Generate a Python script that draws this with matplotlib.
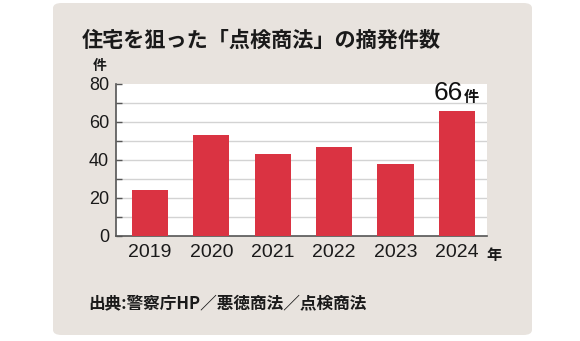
import matplotlib
matplotlib.use("Agg")
import matplotlib.pyplot as plt
from matplotlib.patches import FancyBboxPatch

plt.rcParams['font.family'] = ['Noto Sans CJK JP', 'DejaVu Sans']

years = ["2019", "2020", "2021", "2022", "2023", "2024"]
counts = [24, 53, 43, 47, 38, 66]
yticks = [0, 20, 40, 60, 80]
title = "住宅を狙った「点検商法」の摘発件数"
source = "出典:警察庁HP／悪徳商法／点検商法"

W, H = 580, 341
fig = plt.figure(figsize=(W / 100, H / 100), dpi=100)
fig.patch.set_facecolor("white")

panel = FancyBboxPatch((53 / W, 1 - 335 / H), (532 - 53) / W, (335 - 3) / H,
                       boxstyle="round,pad=0,rounding_size=0.015",
                       transform=fig.transFigure, facecolor="#e8e3de",
                       edgecolor="none", zorder=-5)
fig.patches.append(panel)

num_font = ['Liberation Sans', 'DejaVu Sans']

ax = fig.add_axes([116 / W, 1 - 236 / H, (487 - 116) / W, (236 - 84) / H])
ax.set_zorder(2)
ax.set_facecolor("white")
x = list(range(len(years)))
ax.bar(x, counts, width=0.59, color="#da3342", zorder=3)
ax.set_xlim(-0.554, 5.49)
ax.set_ylim(0, 80)
for v in range(10, 80, 10):
    ax.axhline(v, color="#d3d3d3", lw=1.0, zorder=1)
ax.set_yticks(yticks)
ax.set_yticks(list(range(10, 80, 20)), minor=True)
ax.set_yticklabels([str(v) for v in yticks], fontsize=13, color="#1a1a1a", family=num_font)
ax.set_xticks(x)
ax.set_xticklabels(years, fontsize=14, color="#1a1a1a", family=num_font)
ax.tick_params(axis="x", length=0, pad=6)
ax.tick_params(axis="y", which="both", direction="in", length=4, width=1.0,
               color="#555555", pad=5)
for s in ["top", "right"]:
    ax.spines[s].set_visible(False)
for s in ["left", "bottom"]:
    ax.spines[s].set_color("#555555")
    ax.spines[s].set_linewidth(1.2)

# annotation on last bar
ax.text(5.1, counts[-1] + 2.8, "66", ha="right", va="bottom", fontsize=19,
        color="#111111", family=num_font)
ax.text(5.11, counts[-1] + 3.0, "件", ha="left", va="bottom", fontsize=11,
        color="#111111", fontweight="bold")

fig.text(82 / W, 1 - 40 / H, title, ha="left", va="center", fontsize=15.2,
         fontweight="bold", color="#1a1a1a")
fig.text(100 / W, 1 - 66 / H, "件", ha="center", va="center", fontsize=10,
         fontweight="bold", color="#1a1a1a")
fig.text(486 / W, 1 - 255 / H, "年", ha="left", va="center", fontsize=11,
         fontweight="bold", color="#1a1a1a")
fig.text(88 / W, 1 - 303 / H, source, ha="left", va="center", fontsize=12,
         fontweight="bold", color="#1a1a1a")

fig.savefig("out.png", dpi=100, facecolor="white")
